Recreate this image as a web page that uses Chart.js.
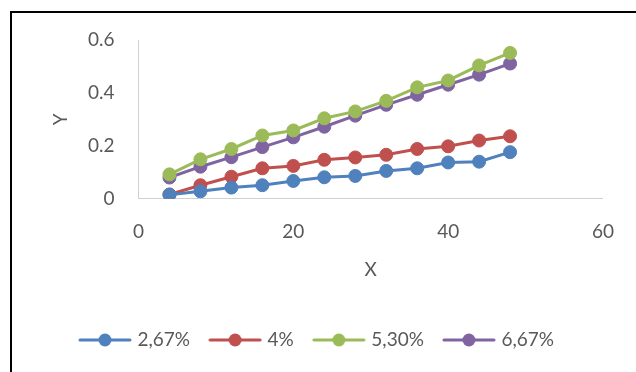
<!DOCTYPE html>
<html>
<head>
<meta charset="utf-8">
<script src="https://cdn.jsdelivr.net/npm/chart.js@4/dist/chart.umd.min.js"></script>
<style>
  html, body { margin: 0; padding: 0; background: #fff; overflow: hidden; }
  .frame {
    position: absolute; left: 10px; top: 11px;
    width: 700px; height: 500px;
    border: 2px solid #000;
  }
  .wrap { position: absolute; left: 0; top: 0; width: 636px; height: 372px; }
</style>
</head>
<body>
<div class="frame"></div>
<div class="wrap"><canvas id="chart" width="636" height="372"></canvas></div>
<script>
const xValues = [4, 8, 12, 16, 20, 24, 28, 32, 36, 40, 44, 48];
const seriesNames = ["2,67%", "4%", "5,30%", "6,67%"];
const s267 = [0.015, 0.028, 0.042, 0.051, 0.067, 0.081, 0.086, 0.105, 0.115, 0.137, 0.140, 0.176];
const s4   = [0.016, 0.051, 0.083, 0.115, 0.124, 0.147, 0.156, 0.166, 0.188, 0.198, 0.220, 0.236];
const s530 = [0.092, 0.149, 0.188, 0.239, 0.258, 0.304, 0.330, 0.370, 0.421, 0.447, 0.504, 0.551];
const s667 = [0.080, 0.121, 0.157, 0.195, 0.232, 0.272, 0.314, 0.355, 0.393, 0.431, 0.469, 0.511];
const xTicks = [0, 20, 40, 60];
const yTicks = [0, 0.2, 0.4, 0.6];

const colors = ["#4F81BD", "#C0504D", "#9BBB59", "#8064A2"];
const allSeries = [s267, s4, s530, s667];
const FONT = "Lato, 'Open Sans', sans-serif";
const TEXT = "#595959";
const FS = 19;

// legend marker: line with a dot, like Excel
function legendIcon(color) {
  const c = document.createElement("canvas");
  c.width = 54; c.height = 16;
  const g = c.getContext("2d");
  g.strokeStyle = color;
  g.lineWidth = 3;
  g.lineCap = "round";
  g.beginPath(); g.moveTo(2, 8); g.lineTo(52, 8); g.stroke();
  g.fillStyle = color;
  g.beginPath(); g.arc(27, 8, 6.5, 0, Math.PI * 2); g.fill();
  return c;
}

const datasets = allSeries.map((vals, i) => ({
  label: seriesNames[i],
  data: vals.map((v, j) => ({ x: xValues[j], y: v })),
  borderColor: colors[i],
  backgroundColor: colors[i],
  borderWidth: 3,
  pointRadius: 6.5,
  pointHoverRadius: 6.5,
  pointBorderWidth: 1,
  showLine: true,
  tension: 0,
  pointStyle: "circle",
}));

new Chart(document.getElementById("chart").getContext("2d"), {
  type: "scatter",
  data: { datasets },
  options: {
    responsive: false,
    animation: false,
    layout: { padding: { left: 33, right: 33, top: 40, bottom: 12.5 } },
    plugins: {
      tooltip: { enabled: false },
      legend: {
        position: "bottom",
        labels: {
          color: TEXT,
          font: { family: FONT, size: FS },
          usePointStyle: true,
          pointStyleWidth: 46,
          padding: 22,
          generateLabels: (chart) =>
            chart.data.datasets.map((ds, i) => ({
              text: ds.label,
              fillStyle: colors[i],
              strokeStyle: colors[i],
              fontColor: TEXT,
              pointStyle: legendIcon(colors[i]),
              lineWidth: 0,
              hidden: false,
              datasetIndex: i,
            })),
        },
      },
    },
    scales: {
      x: {
        type: "linear",
        min: 0,
        max: 60,
        afterBuildTicks: (s) => { s.ticks = xTicks.map((v) => ({ value: v })); },
        afterFit: (s) => { s.height = 109.8; },
        grid: { display: false, drawTicks: false },
        border: { display: true, color: "#d0d0d0", width: 1 },
        ticks: { color: TEXT, font: { family: FONT, size: FS }, padding: 22 },
        title: {
          display: true, text: "X", color: TEXT,
          font: { family: FONT, size: FS },
          padding: { top: 0, bottom: 27 },
        },
      },
      y: {
        type: "linear",
        min: 0,
        max: 0.6,
        afterBuildTicks: (s) => { s.ticks = yTicks.map((v) => ({ value: v })); },
        afterFit: (s) => { s.width = 105.5; },
        grid: { display: false, drawTicks: false },
        border: { display: true, color: "#d0d0d0", width: 1 },
        ticks: { color: TEXT, font: { family: FONT, size: FS }, padding: 24 },
        title: {
          display: true, text: "Y", color: TEXT,
          font: { family: FONT, size: FS },
          padding: { top: 16, bottom: 0 },
        },
      },
    },
  },
});
</script>
</body>
</html>
